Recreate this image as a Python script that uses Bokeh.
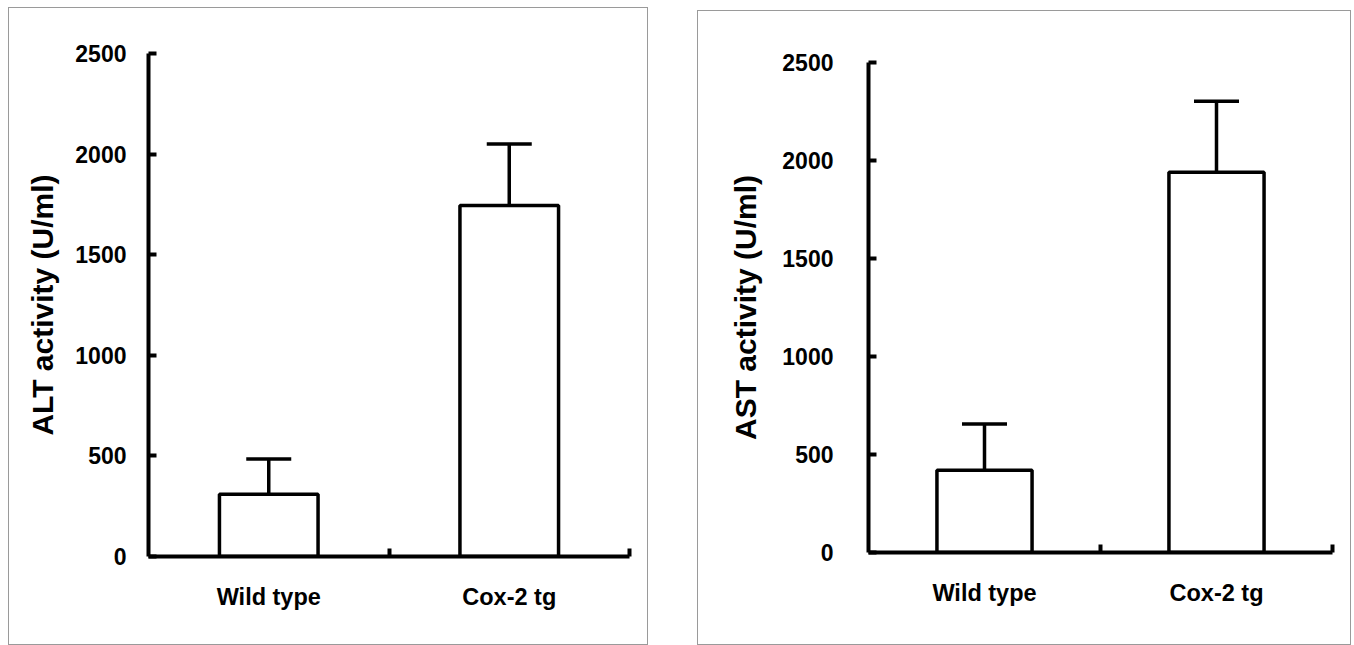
from bokeh.plotting import figure
from bokeh.models import (ColumnDataSource, FixedTicker, Whisker, TeeHead, Range1d, Spacer)
from bokeh.layouts import row, column
from bokeh.embed import file_html
from bokeh.resources import INLINE

# ---- data ----
categories = ["Wild type", "Cox-2 tg"]
alt_mean = [310, 1745]
alt_err = [175, 305]
ast_mean = [420, 1940]
ast_err = [235, 362]
y_ticks = [0, 500, 1000, 1500, 2000, 2500]

FONT = "Liberation Sans"


def make_panel(means, errs, ylabel, width, height, mb_left, mb_top, mb_right, mb_bottom,
               lab_standoff, tick_standoff, x_standoff):
    xs = [i + 0.5 for i in range(len(categories))]
    src = ColumnDataSource(dict(
        x=xs, mean=means, upper=[m + e for m, e in zip(means, errs)], cat=categories))
    p = figure(width=width, height=height, output_backend="svg", toolbar_location=None,
               x_range=Range1d(0, len(categories)), y_range=Range1d(0, 2500),
               min_border_left=mb_left, min_border_top=mb_top,
               min_border_right=mb_right, min_border_bottom=mb_bottom)
    p.styles = {"border": "1px solid #9a9a9a"}
    p.outline_line_color = None
    p.xgrid.grid_line_color = None
    p.ygrid.grid_line_color = None
    p.background_fill_color = "white"
    p.border_fill_color = "white"

    p.vbar(x="x", top="mean", bottom=0, width=0.41, source=src,
           fill_color="white", line_color="black", line_width=3.5)
    w = Whisker(base="x", lower="mean", upper="upper", source=src,
                upper_head=TeeHead(size=45, line_width=3.5, line_color="black"),
                lower_head=None, line_width=3.5, line_color="black")
    p.add_layout(w)

    # y axis
    ya = p.yaxis[0]
    ya.ticker = FixedTicker(ticks=y_ticks)
    ya.axis_line_width = 4
    ya.axis_line_color = "black"
    ya.major_tick_line_width = 4
    ya.major_tick_line_color = "black"
    ya.major_tick_in = 8
    ya.major_tick_out = 0
    ya.minor_tick_line_color = None
    ya.major_label_text_font = FONT
    ya.major_label_text_font_style = "bold"
    ya.major_label_text_font_size = "23px"
    ya.major_label_text_color = "black"
    ya.major_label_standoff = tick_standoff
    ya.axis_label = ylabel
    ya.axis_label_text_font = FONT
    ya.axis_label_text_font_style = "bold"
    ya.axis_label_text_font_size = "30px"
    ya.axis_label_text_color = "black"
    ya.axis_label_standoff = lab_standoff

    # x axis: labels at category centres, ticks at category boundaries
    xa = p.xaxis[0]
    xa.ticker = FixedTicker(ticks=xs, minor_ticks=[i + 1 for i in range(len(categories))])
    xa.major_label_overrides = {x: c for x, c in zip(xs, categories)}
    xa.axis_line_width = 4
    xa.axis_line_color = "black"
    xa.major_tick_line_color = None
    xa.minor_tick_line_width = 4
    xa.minor_tick_line_color = "black"
    xa.minor_tick_in = 8
    xa.minor_tick_out = 0
    xa.major_label_text_font = FONT
    xa.major_label_text_font_style = "bold"
    xa.major_label_text_font_size = "23.5px"
    xa.major_label_text_color = "black"
    xa.major_label_standoff = x_standoff
    return p


p1 = make_panel(alt_mean, alt_err, "ALT activity (U/ml)", 640, 638,
                139, 45, 20, 90, 13, 22, 21)
p2 = make_panel(ast_mean, ast_err, "AST activity (U/ml)", 654, 635,
                170, 51, 20, 94, 17, 35, 21)

layout = column(Spacer(height=7),
                row(Spacer(width=8), p1, Spacer(width=49),
                    column(Spacer(height=3), p2)))

open("out.html", "w").write(file_html(layout, INLINE))
